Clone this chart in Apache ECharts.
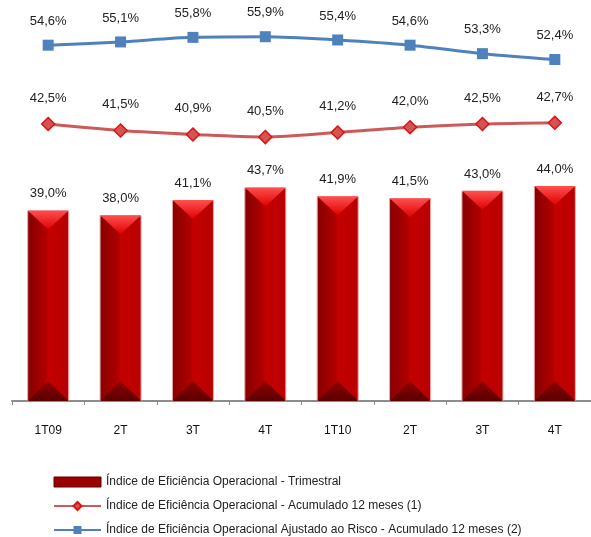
<!DOCTYPE html>
<html>
<head>
<meta charset="utf-8">
<script src="https://cdn.jsdelivr.net/npm/echarts@6/dist/echarts.min.js"></script>
<style>
  html, body { margin: 0; padding: 0; background: #fff; }
  #chart { width: 591px; height: 537px; }
</style>
</head>
<body>
<div id="chart"></div>
<script>
    var categories = ['1T09', '2T', '3T', '4T', '1T10', '2T', '3T', '4T'];
    var trimestral = [39.0, 38.0, 41.1, 43.7, 41.9, 41.5, 43.0, 44.0];
    var acumulado = [42.5, 41.5, 40.9, 40.5, 41.2, 42.0, 42.5, 42.7];
    var ajustado = [54.6, 55.1, 55.8, 55.9, 55.4, 54.6, 53.3, 52.4];

    var nomes = [
        'Índice de Eficiência Operacional - Trimestral',
        'Índice de Eficiência Operacional - Acumulado 12 meses (1)',
        'Índice de Eficiência Operacional Ajustado ao Risco - Acumulado 12 meses (2)'
    ];

    // rótulos no formato 39,0%
    function pct(p) {
        return p.value.toFixed(1).replace('.', ',') + '%';
    }

    var barColor = new echarts.graphic.LinearGradient(0, 0, 1, 0, [
        { offset: 0, color: '#860000' },
        { offset: 0.45, color: '#b00000' },
        { offset: 0.5, color: '#c40000' },
        { offset: 1, color: '#b80000' }
    ]);
    // triângulo claro no topo da barra
    var topoColor = new echarts.graphic.LinearGradient(0, 0, 0, 1, [
        { offset: 0, color: '#e00000' },
        { offset: 1, color: '#ff5050' }
    ]);
    // triângulo escuro na base
    var baseColor = new echarts.graphic.LinearGradient(0, 0, 0, 1, [
        { offset: 0, color: '#900000' },
        { offset: 1, color: '#5a0000' }
    ]);

    var fonte = 'Liberation Sans, Arial, sans-serif';

    var option = {
        animation: false,
        textStyle: { fontFamily: fonte },
        grid: { left: 12, right: -10, top: 10, bottom: 136 },
        legend: {
            orient: 'vertical',
            left: 53,
            top: 476,
            height: 70,
            padding: 0,
            itemWidth: 47,
            itemHeight: 10,
            itemGap: 12,
            textStyle: { fontSize: 12, lineHeight: 12, color: '#222', fontFamily: fonte },
            data: [
                { name: nomes[0], icon: 'rect', itemStyle: { color: '#9a0000', borderColor: '#600000', borderWidth: 1 } },
                { name: nomes[1] },
                { name: nomes[2] }
            ]
        },
        xAxis: {
            type: 'category',
            data: categories,
            axisLine: { lineStyle: { color: '#8c8c8c', width: 2 } },
            axisTick: { show: true, alignWithLabel: false, length: 4, lineStyle: { color: '#8c8c8c' } },
            axisLabel: { color: '#111', fontSize: 12, margin: 24, fontFamily: fonte }
        },
        yAxis: [
            { type: 'value', min: 0, max: 80, show: false },
            { type: 'value', min: 0, max: 60, show: false }
        ],
        series: [
            {
                name: nomes[0],
                type: 'bar',
                data: trimestral,
                barWidth: 42,
                z: 2,
                itemStyle: { color: barColor, borderColor: '#e8a8a8', borderWidth: 1 },
                label: {
                    show: true, position: 'top', distance: 10,
                    formatter: pct, color: '#222', fontSize: 13, fontFamily: fonte
                }
            },
            {
                name: 'topo',
                type: 'pictorialBar',
                data: trimestral,
                symbol: 'triangle',
                symbolRotate: 180,
                symbolSize: [41, 19],
                symbolPosition: 'end',
                barGap: '-100%',
                z: 3,
                silent: true,
                itemStyle: { color: topoColor }
            },
            {
                name: 'base',
                type: 'pictorialBar',
                data: trimestral,
                symbol: 'triangle',
                symbolSize: [41, 20],
                symbolPosition: 'start',
                z: 3,
                silent: true,
                itemStyle: { color: baseColor }
            },
            {
                name: nomes[1],
                type: 'line',
                yAxisIndex: 1,
                data: acumulado,
                smooth: 0.3,
                symbol: 'diamond',
                symbolSize: 13,
                lineStyle: { color: '#cd5a5a', width: 3 },
                itemStyle: { color: '#d25555', borderColor: '#e01010', borderWidth: 1.5 },
                label: {
                    show: true, position: 'top', distance: 12,
                    formatter: pct, color: '#222', fontSize: 13, fontFamily: fonte
                }
            },
            {
                name: nomes[2],
                type: 'line',
                yAxisIndex: 1,
                data: ajustado,
                smooth: 0.3,
                symbol: 'rect',
                symbolSize: 11,
                lineStyle: { color: '#4f81bd', width: 3 },
                itemStyle: { color: '#4f81bd' },
                label: {
                    show: true, position: 'top', distance: 12,
                    formatter: pct, color: '#222', fontSize: 13, fontFamily: fonte
                }
            }
        ]
    };

    var chart = echarts.init(document.getElementById('chart'));
    chart.setOption(option);
</script>
</body>
</html>
